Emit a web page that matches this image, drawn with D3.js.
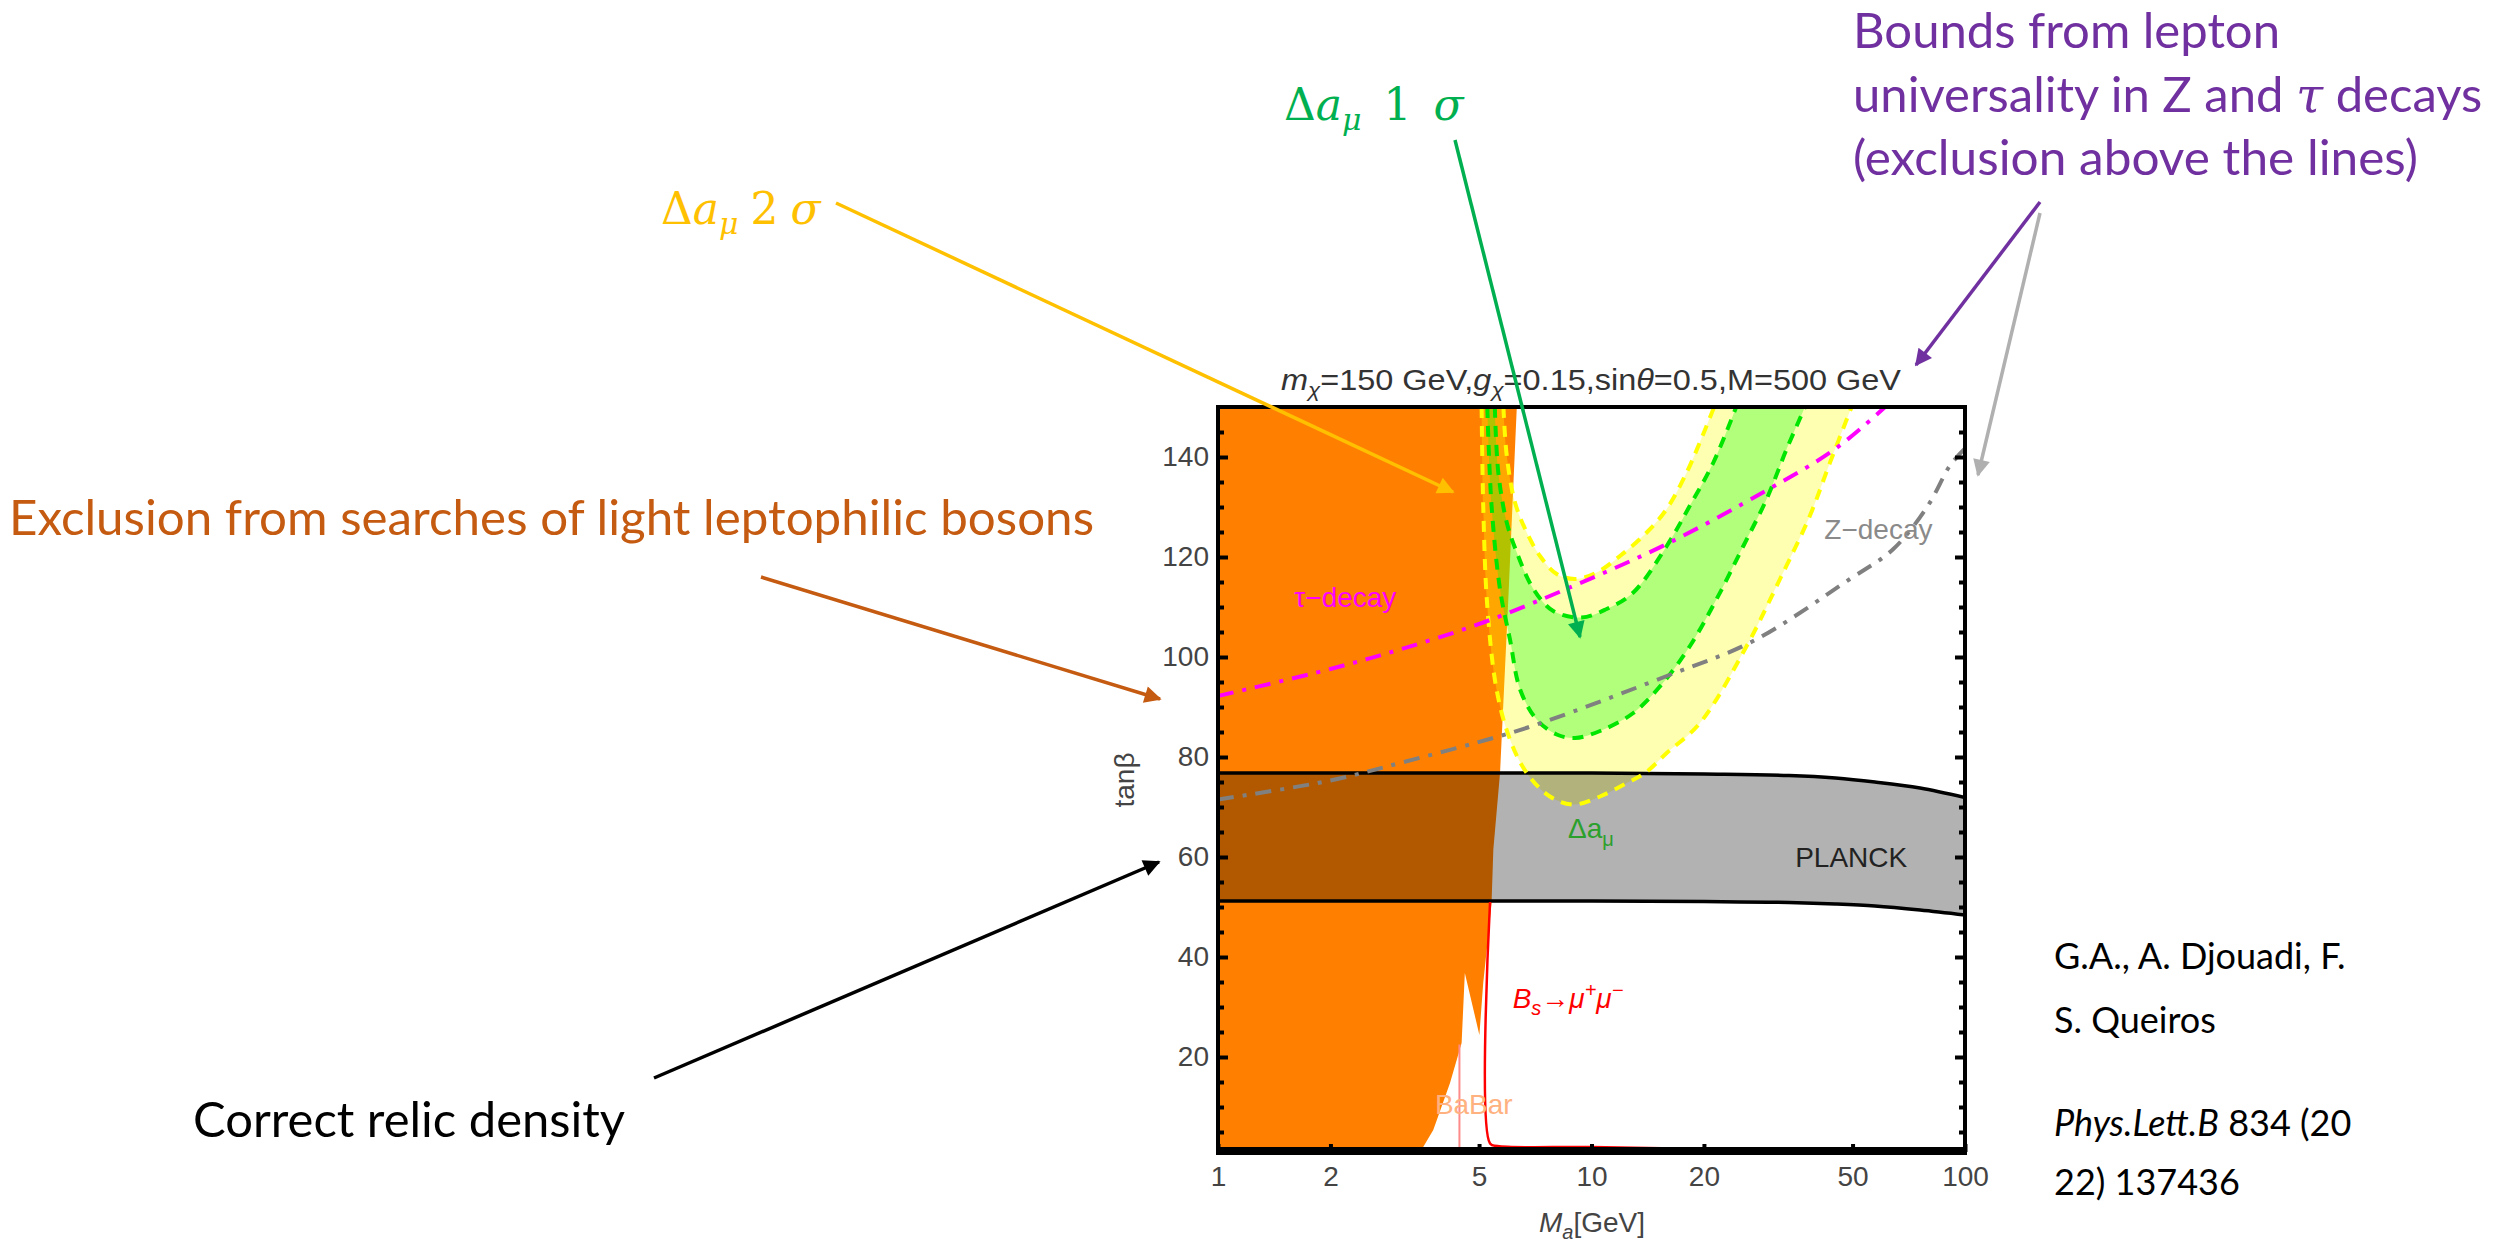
<!DOCTYPE html>
<html>
<head>
<meta charset="utf-8">
<script src="https://cdn.jsdelivr.net/npm/d3@7"></script>
<style>
  body { margin: 0; background: #fff; }
  svg { display: block; }
</style>
</head>
<body>
<script>
// all curves given as [Ma (GeV), tan beta]
var xTicks = [1, 2, 5, 10, 20, 50, 100];
var yTicks = [20, 40, 60, 80, 100, 120, 140];
var yMinorTicks = [5, 10, 15, 25, 30, 35, 45, 50, 55, 65, 70, 75, 85, 90, 95, 105, 110, 115, 125, 130, 135, 145];

// light leptophilic boson searches (orange, excluded to the left)
var orangeEdge = [[1, 150], [6.31, 150], [6.0, 113], [5.69, 76.8], [5.46, 61.5], [5.40, 50.8], [5.30, 44.8],
  [5.13, 34.8], [5.01, 24.4], [4.58, 36.8], [4.49, 22.8], [4.18, 14.8], [3.77, 5.4], [3.55, 2.1], [3.5, 1], [1, 1]];

// delta a_mu bands
var yellowOuter = [[5.08, 150], [5.13, 130.3], [5.26, 110.2], [5.57, 93.5], [6.05, 83.5], [6.71, 76.8], [7.74, 72.1],
  [8.94, 70.5], [10.54, 72.1], [12.43, 74.8], [13.91, 76.8], [15.9, 80.8], [19.52, 86.8], [26.03, 102.2],
  [31.97, 115.6], [38.46, 128.3], [43.51, 138.9], [49.7, 150]];
var yellowInner = [[5.81, 150], [5.93, 140.3], [6.24, 130.9], [6.71, 124.9], [7.28, 120.2], [8.07, 116.6], [9.03, 115.6],
  [10.32, 116.9], [11.92, 120.2], [14.05, 124.9], [15.9, 129.6], [17.98, 136.9], [19.52, 143.0], [21.3, 150]];
var greenOuter = [[5.26, 150], [5.40, 130.3], [5.69, 113.5], [6.05, 103.5], [6.44, 93.5], [7.13, 87.5], [8.07, 84.5],
  [9.03, 83.8], [10.54, 85.2], [12.94, 88.8], [15.57, 94.9], [18.35, 102.2], [21.63, 111.6], [25.5, 122.2],
  [29.44, 131.6], [33.31, 141.6], [37.3, 150]];
var greenInner = [[5.51, 150], [5.63, 136.9], [5.93, 126.9], [6.31, 120.9], [6.99, 113.6], [7.90, 109.2], [9.41, 107.9],
  [10.98, 109.6], [12.94, 112.9], [15.9, 122.2], [18.35, 130.3], [21.2, 138.9], [24.4, 150]];

// lepton universality bounds
var tauDecay = [[1, 92.2], [2, 97.6], [3.07, 101.5], [5.13, 106.9], [8.94, 114.2], [15.9, 122.6], [29.4, 133.3],
  [44.9, 141.6], [61.1, 150]];
var zDecay = [[1, 71.5], [2, 75.3], [3.07, 78.8], [5.69, 84.2], [7.59, 87.2], [15.9, 96.2], [27.1, 103.2],
  [49.2, 115.6], [64.3, 121.6], [79.6, 130.3], [91.2, 138.3], [100, 141.7]];

// PLANCK relic density band
var planckMa = [1, 10, 20, 33.8, 45, 57.4, 75.8, 100];
var planckUpper = [76.8, 76.8, 76.6, 76.3, 75.8, 75.0, 73.8, 71.9];
var planckLower = [51.2, 51.2, 51.1, 50.9, 50.6, 50.2, 49.4, 48.4];

// Bs -> mu mu and BaBar
var bsLine = [[5.35, 51], [5.35, 2.7], [5.6, 2.2], [10, 2.0], [20, 1.6], [50, 1.3], [100, 1.2]];
var babarLine = [[4.43, 1], [4.43, 22.5]];

var W = 2496, H = 1246;
var plotL = 1218, plotR = 1965, plotT = 407, plotB = 1152;

var svg = d3.select("body").append("svg")
  .attr("width", W).attr("height", H)
  .attr("font-family", "'Liberation Sans', Arial, sans-serif");
svg.append("rect").attr("width", W).attr("height", H).attr("fill", "#fff");

var x = d3.scaleLog().domain([1, 100]).range([plotL, plotR]);
var y = d3.scaleLinear().domain([1, 150]).range([plotB, plotT]);

var defs = svg.append("defs");
defs.append("clipPath").attr("id", "plotclip")
  .append("rect").attr("x", plotL).attr("y", plotT).attr("width", plotR - plotL).attr("height", plotB - plotT);

var smooth = d3.line().x(function (d) { return x(d[0]); }).y(function (d) { return y(d[1]); }).curve(d3.curveCatmullRom);
var straight = d3.line().x(function (d) { return x(d[0]); }).y(function (d) { return y(d[1]); });

function bandPath(outer, inner) {
  var a = smooth(outer);
  var b = smooth(inner.slice().reverse());
  return a + "L" + b.slice(1) + "Z";
}

var plot = svg.append("g").attr("clip-path", "url(#plotclip)");

// orange exclusion
plot.append("path").attr("d", straight(orangeEdge) + "Z").attr("fill", "#ff8000");

// bands
plot.append("path").attr("d", bandPath(yellowOuter, yellowInner)).attr("fill", "#ffff00").attr("fill-opacity", 0.3);
plot.append("path").attr("d", bandPath(greenOuter, greenInner)).attr("fill", "#00ff00").attr("fill-opacity", 0.3);

// planck band
var planckData = planckMa.map(function (m, i) { return { m: m, lo: planckLower[i], hi: planckUpper[i] }; });
var planckArea = d3.area().x(function (d) { return x(d.m); })
  .y0(function (d) { return y(d.lo); }).y1(function (d) { return y(d.hi); }).curve(d3.curveMonotoneX);
plot.append("path").attr("d", planckArea(planckData)).attr("fill", "#000").attr("fill-opacity", 0.3);
var planckLine = d3.line().x(function (d) { return x(d.m); }).curve(d3.curveMonotoneX);
plot.append("path").attr("d", planckLine.y(function (d) { return y(d.hi); })(planckData))
  .attr("fill", "none").attr("stroke", "#000").attr("stroke-width", 3.5);
plot.append("path").attr("d", planckLine.y(function (d) { return y(d.lo); })(planckData))
  .attr("fill", "none").attr("stroke", "#000").attr("stroke-width", 3.5);

// dashed band edges
[[yellowOuter, "#ffff00"], [yellowInner, "#ffff00"], [greenOuter, "#00e600"], [greenInner, "#00e600"]].forEach(function (c) {
  plot.append("path").attr("d", smooth(c[0])).attr("fill", "none")
    .attr("stroke", c[1]).attr("stroke-width", 4).attr("stroke-dasharray", "11,8");
});

// universality lines
plot.append("path").attr("d", smooth(tauDecay)).attr("fill", "none")
  .attr("stroke", "#ff00ff").attr("stroke-width", 4).attr("stroke-dasharray", "16,9,4,9");
plot.append("path").attr("d", smooth(zDecay)).attr("fill", "none")
  .attr("stroke", "#808080").attr("stroke-width", 4).attr("stroke-dasharray", "16,9,4,9");

// Bs and BaBar
plot.append("path").attr("d", straight(babarLine)).attr("fill", "none").attr("stroke", "#ff8a8a").attr("stroke-width", 2);
plot.append("path").attr("d", smooth(bsLine)).attr("fill", "none").attr("stroke", "#ff0000").attr("stroke-width", 2.5);

// in-plot labels
var lab = svg.append("g").attr("font-size", 28);
lab.append("text").attr("x", x(1.6)).attr("y", y(110)).attr("fill", "#ff00ff").text("τ−decay");
lab.append("text").attr("x", x(42)).attr("y", y(123.6)).attr("fill", "#8a8a8a").text("Z−decay");
lab.append("text").attr("x", x(35.1)).attr("y", y(58.1)).attr("fill", "#222").text("PLANCK");
var dam = lab.append("text").attr("x", x(8.65)).attr("y", y(63.9)).attr("fill", "#2ca02c");
dam.append("tspan").text("Δa");
dam.append("tspan").attr("font-size", 20).attr("dy", 8).text("μ");
lab.append("text").attr("x", x(4.84)).attr("y", y(8.6)).attr("text-anchor", "middle").attr("fill", "#ffb27f").text("BaBar");
var bs = lab.append("text").attr("x", x(6.15)).attr("y", y(29.8)).attr("fill", "#ff0000").attr("font-style", "italic");
bs.append("tspan").text("B");
bs.append("tspan").attr("font-size", 20).attr("dy", 7).text("s");
bs.append("tspan").attr("dy", -7).text("→μ");
bs.append("tspan").attr("font-size", 20).attr("dy", -11).text("+");
bs.append("tspan").attr("font-size", 28).attr("dy", 11).text("μ");
bs.append("tspan").attr("font-size", 20).attr("dy", -11).text("−");

// axes
var axG = svg.append("g").attr("font-size", 28);
axG.append("g").attr("transform", "translate(" + plotL + ",0)")
  .call(d3.axisLeft(y).tickValues(yTicks).tickSize(-10).tickPadding(9));
axG.append("g").attr("transform", "translate(" + plotL + ",0)")
  .call(d3.axisLeft(y).tickValues(yMinorTicks).tickSize(-6).tickFormat(""));
axG.append("g").attr("transform", "translate(" + plotR + ",0)")
  .call(d3.axisRight(y).tickValues(yTicks).tickSize(-10).tickFormat(""));
axG.append("g").attr("transform", "translate(" + plotR + ",0)")
  .call(d3.axisRight(y).tickValues(yMinorTicks).tickSize(-6).tickFormat(""));
axG.append("g").attr("transform", "translate(0," + plotB + ")")
  .call(d3.axisBottom(x).tickValues(xTicks).tickSize(-8).tickPadding(14).tickFormat(d3.format("d")));
axG.selectAll(".domain").remove();
axG.selectAll(".tick line").attr("stroke", "#000").attr("stroke-width", 4);
axG.selectAll(".tick text").attr("fill", "#444").attr("font-size", 28).attr("font-family", "'Liberation Sans', Arial, sans-serif");

// frame
svg.append("rect").attr("x", plotL).attr("y", plotT).attr("width", plotR - plotL).attr("height", plotB - plotT)
  .attr("fill", "none").attr("stroke", "#000").attr("stroke-width", 4);
svg.append("line").attr("x1", plotL - 2).attr("x2", plotR + 2).attr("y1", plotB - 1).attr("y2", plotB - 1)
  .attr("stroke", "#000").attr("stroke-width", 8);

// axis labels and title
svg.append("text").attr("transform", "translate(1134,780) rotate(-90)").attr("text-anchor", "middle")
  .attr("font-size", 28).attr("fill", "#444").text("tanβ");
var xl = svg.append("text").attr("x", 1592).attr("y", 1232).attr("text-anchor", "middle").attr("font-size", 28).attr("fill", "#444");
xl.append("tspan").attr("font-style", "italic").text("M");
xl.append("tspan").attr("font-style", "italic").attr("font-size", 20).attr("dy", 7).text("a");
xl.append("tspan").attr("dy", -7).text("[GeV]");

var title = svg.append("text").attr("x", 1591).attr("y", 390).attr("text-anchor", "middle")
  .attr("font-size", 29).attr("fill", "#333").attr("textLength", 620).attr("lengthAdjust", "spacingAndGlyphs");
title.append("tspan").attr("font-style", "italic").text("m");
title.append("tspan").attr("font-size", 20).attr("font-style", "italic").attr("dy", 7).text("χ");
title.append("tspan").attr("dy", -7).text("=150 GeV,");
title.append("tspan").attr("font-style", "italic").text("g");
title.append("tspan").attr("font-size", 20).attr("font-style", "italic").attr("dy", 7).text("χ");
title.append("tspan").attr("dy", -7).text("=0.15,sin");
title.append("tspan").attr("font-style", "italic").text("θ");
title.append("tspan").text("=0.5,M=500 GeV");

// annotations
function marker(id, color) {
  defs.append("marker").attr("id", id).attr("viewBox", "0 0 10 10").attr("refX", 9).attr("refY", 5)
    .attr("markerWidth", 24).attr("markerHeight", 17).attr("markerUnits", "userSpaceOnUse").attr("orient", "auto")
    .append("path").attr("d", "M0,0L10,5L0,10z").attr("fill", color);
}
var arrows = [
  { id: "aY", color: "#ffc000", from: [836, 203], to: [1453, 492] },
  { id: "aG", color: "#00b050", from: [1455, 140], to: [1580, 637] },
  { id: "aP", color: "#7030a0", from: [2040, 202], to: [1916, 365] },
  { id: "aS", color: "#b0b0b0", from: [2040, 213], to: [1978, 475] },
  { id: "aB", color: "#c55a11", from: [761, 577], to: [1160, 699] },
  { id: "aK", color: "#000000", from: [654, 1078], to: [1159, 862] }
];
arrows.forEach(function (a) {
  marker(a.id, a.color);
  svg.append("line").attr("x1", a.from[0]).attr("y1", a.from[1]).attr("x2", a.to[0]).attr("y2", a.to[1])
    .attr("stroke", a.color).attr("stroke-width", 3.5).attr("marker-end", "url(#" + a.id + ")");
});

var note = svg.append("g").attr("font-family", "Lato, 'Open Sans', sans-serif").attr("font-size", 49);
note.append("text").attr("x", 9).attr("y", 535).attr("fill", "#c55a11")
  .attr("textLength", 1085).attr("lengthAdjust", "spacingAndGlyphs")
  .text("Exclusion from searches of light leptophilic bosons");
note.append("text").attr("x", 193).attr("y", 1137).attr("fill", "#000")
  .attr("textLength", 432).attr("lengthAdjust", "spacingAndGlyphs").text("Correct relic density");

var purple = note.append("g").attr("fill", "#7030a0");
purple.append("text").attr("x", 1853).attr("y", 48)
  .attr("textLength", 427).attr("lengthAdjust", "spacingAndGlyphs").text("Bounds from lepton");
var p2 = purple.append("text").attr("x", 1853).attr("y", 112);
p2.append("tspan").text("universality in Z and ");
p2.append("tspan").attr("font-family", "'DejaVu Serif', serif").attr("font-style", "italic").text("τ");
p2.append("tspan").text(" decays");
purple.append("text").attr("x", 1853).attr("y", 175)
  .attr("textLength", 565).attr("lengthAdjust", "spacingAndGlyphs").text("(exclusion above the lines)");

var cite = note.append("g").attr("font-size", 36).attr("fill", "#000");
cite.append("text").attr("x", 2054).attr("y", 969).text("G.A., A. Djouadi, F.");
cite.append("text").attr("x", 2054).attr("y", 1033).text("S. Queiros");
var c3 = cite.append("text").attr("x", 2054).attr("y", 1136);
c3.append("tspan").attr("font-style", "italic").text("Phys.Lett.B");
c3.append("tspan").text(" 834 (20");
cite.append("text").attr("x", 2054).attr("y", 1195).text("22) 137436");

function muLabel(xp, yp, num, color, gap) {
  var t = svg.append("text").attr("x", xp).attr("y", yp).attr("fill", color)
    .attr("font-family", "'DejaVu Serif', 'Liberation Serif', serif").attr("font-size", 44);
  t.append("tspan").text("Δ");
  t.append("tspan").attr("font-style", "italic").text("a");
  t.append("tspan").attr("font-style", "italic").attr("font-size", 30).attr("dy", 10).text("μ");
  t.append("tspan").attr("dy", -10).attr("dx", gap).text(num);
  t.append("tspan").attr("dx", gap).attr("font-style", "italic").text("σ");
}
muLabel(661, 224, "2", "#ffc000", 12);
muLabel(1284, 120, "1", "#00b050", 22);
</script>
</body>
</html>
